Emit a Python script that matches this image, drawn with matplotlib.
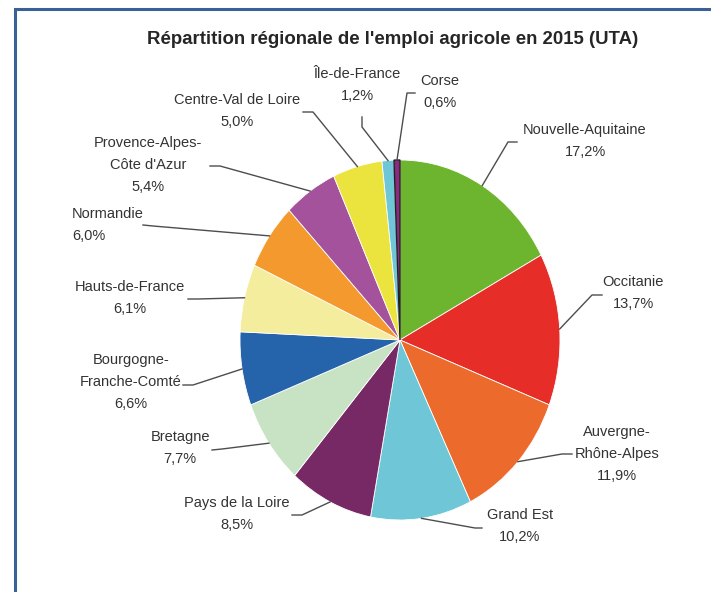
import numpy as np
import matplotlib.pyplot as plt
from matplotlib.patches import Rectangle

plt.rcParams['font.family'] = ['Liberation Sans', 'DejaVu Sans']

# data (clockwise from 12 o'clock)
regions = ["Nouvelle-Aquitaine", "Occitanie", "Auvergne-\nRhône-Alpes", "Grand Est",
           "Pays de la Loire", "Bretagne", "Bourgogne-\nFranche-Comté", "Hauts-de-France",
           "Normandie", "Provence-Alpes-\nCôte d'Azur", "Centre-Val de Loire",
           "Île-de-France", "Corse"]
shares = [17.2, 13.7, 11.9, 10.2, 8.5, 7.7, 6.6, 6.1, 6.0, 5.4, 5.0, 1.2, 0.6]
colors = ["#6db42f", "#e62d28", "#ec6a2b", "#6ec6d6", "#772966", "#c8e2c4", "#2563aa",
          "#f3ed9d", "#f3992d", "#a4529b", "#ebe43e", "#6ec6d6", "#8a2a80"]

W, H = 711, 592
# pie box in pixels
cx, cy, rx, ry = 400, 340, 160, 180

# label layout (pixel): text centre, line start, elbow
lab_xy = [(585, 141), (633, 293), (617, 454), (520, 526), (237, 514), (180, 448),
          (131, 382), (130, 298), (72, 225), (148, 165), (237, 111), (357, 85), (440, 92)]
lab_ha = ["center"] * 8 + ["left"] + ["center"] * 4
line_start = [(517, 142), (602, 295), (572, 454), (482, 528), (292, 515), (212, 450),
              (183, 385), (188, 299), (143, 225), (210, 166), (303, 112), (362, 117), (415, 93)]
elbow = [(508, 142), (592, 295), (562, 454), (475, 528), (302, 515), (222, 449),
         (193, 385), (198, 299), (153, 226), (220, 166), (313, 112), (362, 127), (407, 93)]

fig = plt.figure(figsize=(W / 100, H / 100), dpi=100)
fig.patch.set_facecolor("white")

# frame
fig.patches.append(Rectangle((15 / W, -0.05), 1.1, (H - 9) / H + 0.05,
                             transform=fig.transFigure, fill=False,
                             edgecolor="#3a6196", linewidth=2.2))

ax = fig.add_axes([(cx - rx) / W, (H - cy - ry) / H, 2 * rx / W, 2 * ry / H])
wedges, _ = ax.pie(shares, colors=colors, startangle=90, counterclock=False,
                   radius=1, wedgeprops=dict(edgecolor="white", linewidth=0.6))
wedges[-1].set_edgecolor("#222222")
wedges[-1].set_linewidth(1.0)
ax.set_aspect("auto")
ax.set_xlim(-1, 1)
ax.set_ylim(-1, 1)


def to_data(p):
    return (p[0] - cx) / rx, (cy - p[1]) / ry


for i, w in enumerate(wedges):
    ang = np.deg2rad((w.theta1 + w.theta2) / 2)
    px, py = np.cos(ang), np.sin(ang)
    s = to_data(line_start[i])
    e = to_data(elbow[i])
    ax.plot([s[0], e[0], px], [s[1], e[1], py], color="#4d4d4d", lw=1.0,
            clip_on=False, zorder=3)
    tx, ty = to_data(lab_xy[i])
    ax.text(tx, ty, f"{regions[i]}\n{shares[i]:.1f}%".replace(".", ","),
            ha=lab_ha[i], va="center", multialignment=lab_ha[i],
            fontsize=10.5, color="#333333", linespacing=1.7, clip_on=False)

fig.text(393 / W, 1 - 40 / H, "Répartition régionale de l'emploi agricole en 2015 (UTA)",
         ha="center", va="center", fontsize=13.4, fontweight="bold", color="#262626")

fig.savefig("out.png", dpi=100)
